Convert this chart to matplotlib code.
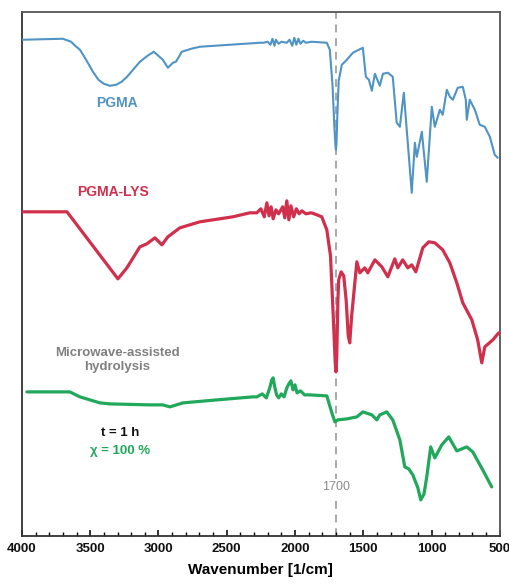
import matplotlib
matplotlib.use("Agg")
from matplotlib import pyplot as plt
from matplotlib.ticker import MultipleLocator

plt.rcParams['font.family'] = ['Liberation Sans', 'DejaVu Sans']

# FTIR spectra, stacked (offset transmittance, a.u.)
pgma_wn = [4000, 3700, 3640, 3610, 3575, 3530, 3480, 3440, 3400, 3356, 3310, 3270, 3230, 3180, 3136, 3080, 3034,
           2968, 2931, 2894, 2872, 2829, 2760, 2697, 2257,
           2230, 2200, 2180, 2165, 2150, 2140, 2120, 2100, 2060, 2040, 2020, 2005, 1990, 1975, 1960, 1940, 1920, 1880,
           1767, 1745, 1725, 1712, 1704, 1700, 1696, 1690, 1680, 1657, 1620, 1576, 1503, 1481, 1459, 1437, 1415,
           1379, 1356, 1320, 1284,
           1255, 1232, 1203, 1145, 1122, 1108, 1071, 1035, 998, 976, 939, 918, 888, 866, 844, 808, 771, 749, 742,
           720, 683, 647, 610, 573, 537, 515]
pgma_t = [496, 497, 494, 490, 486, 476, 464, 456, 452, 450, 451, 454, 459, 467, 474, 480, 484,
          476, 468, 473, 474, 484, 487, 489, 493,
          493, 494, 491, 497, 490, 496, 492, 494, 493, 496, 490, 498, 491, 497, 492, 495, 493, 494,
          493, 486, 450, 410, 390, 386, 392, 420, 455, 471, 476, 483, 488, 459, 456, 445, 462,
          450, 462, 463, 459,
          413, 409, 443, 343, 393, 379, 404, 354, 429, 409, 426, 421, 446, 439, 436, 448, 449, 436, 416,
          436, 426, 411, 409, 399, 381, 378]

lys_wn = [4000, 3670, 3297, 3231, 3136, 3085, 3026, 2975, 2931, 2843, 2697, 2455, 2331,
          2280, 2250, 2225, 2206, 2190, 2175, 2160, 2140, 2120, 2090, 2075, 2060, 2045, 2030, 2010, 1990, 1970, 1950, 1920, 1880,
          1840, 1804, 1767, 1740, 1720, 1706, 1700, 1694, 1686, 1680, 1662, 1643, 1625, 1610, 1599, 1585,
          1547, 1525, 1489, 1467, 1415, 1364, 1320, 1269,
          1247, 1211, 1174, 1145, 1115, 1064, 1020, 976, 918, 866, 815, 771, 705, 662, 632, 610, 551, 508]
lys_t = [324, 324, 257, 268, 289, 292, 298, 291, 299, 308, 314, 319, 323,
         323, 327, 319, 333, 320, 329, 317, 326, 322, 329, 318, 335, 316, 330, 319, 327, 322, 325, 322, 323,
         321, 319, 306, 280, 220, 175, 164, 180, 235, 256, 264, 260, 235, 200, 193, 220,
         274, 263, 268, 263, 276, 269, 259, 277,
         268, 276, 268, 271, 264, 288, 294, 293, 286, 273, 253, 233, 216, 196, 173, 189, 196, 203]

mw_wn = [3963, 3649, 3575, 3429, 3356, 3063, 2968, 2916, 2821, 2572, 2310,
         2280, 2240, 2210, 2185, 2170, 2160, 2150, 2135, 2120, 2100, 2080, 2060, 2045, 2030, 2015, 2000, 1985, 1960, 1930, 1891,
         1767, 1730, 1708, 1686, 1620, 1547, 1503, 1437, 1401, 1379, 1328, 1284, 1232, 1196, 1167, 1137,
         1100, 1079, 1055, 1035, 1006, 976, 925, 874, 815, 742, 698, 625, 559]
mw_t = [144, 144, 139, 133, 132, 131, 131, 129, 133, 136, 139,
        139, 142, 138, 148, 156, 158, 150, 141, 138, 142, 139, 148, 152, 155, 146, 151, 143, 145, 141, 141,
        140, 123, 114, 116, 117, 119, 124, 121, 116, 121, 124, 116, 96, 69, 67, 61,
        48, 36, 42, 59, 89, 78, 91, 99, 85, 89, 84, 66, 49]

blue = '#4f94c4'
red = '#d1304c'
green = '#21a85b'

fig = plt.figure(figsize=(5.10, 5.87), dpi=100)
ax = fig.add_axes([0.043, 0.087, 0.937, 0.893])

ax.axvline(1700, color='#a8a8a8', lw=1.4, ls=(0, (4, 3)), zorder=1)
line_kw = dict(solid_joinstyle='round', solid_capstyle='round', zorder=3)
ax.plot(pgma_wn, pgma_t, color=blue, lw=1.5, **line_kw)
ax.plot(lys_wn, lys_t, color=red, lw=2.3, **line_kw)
ax.plot(mw_wn, mw_t, color=green, lw=2.3, **line_kw)

ax.text(3304, 433, 'PGMA', color=blue, fontsize=10, fontweight='bold', ha='center', va='center')
ax.text(3334, 344, 'PGMA-LYS', color=red, fontsize=10, fontweight='bold', ha='center', va='center')
ax.text(3304, 176, 'Microwave-assisted\nhydrolysis', color='#808080', fontsize=9.5,
        fontweight='bold', ha='center', va='center', linespacing=1.25)
ax.text(3282, 103, 't = 1 h', color='#111111', fontsize=9.5, fontweight='bold', ha='center', va='center')
ax.text(3282, 85, 'χ = 100 %', color=green, fontsize=9.5, fontweight='bold', ha='center', va='center')
ax.text(1700, 49, '1700', color='#8a8a8a', fontsize=9, ha='center', va='center',
        bbox=dict(facecolor='white', edgecolor='none', pad=1.5), zorder=2)

ax.set_xlim(4000, 500)
ax.set_ylim(0, 524)
ax.set_yticks([])
ax.xaxis.set_major_locator(MultipleLocator(500))
ax.xaxis.set_minor_locator(MultipleLocator(100))
ax.tick_params(axis='x', which='major', direction='in', length=4, width=1.2, pad=5,
               labelsize=9.5, colors='#111111')
ax.tick_params(axis='x', which='minor', direction='in', length=3, width=1.0)
for lab in ax.get_xticklabels():
    lab.set_fontweight('bold')
for s in ax.spines.values():
    s.set_linewidth(1.3)
    s.set_color('#333333')
ax.spines['top'].set_color('#555555')
ax.spines['right'].set_color('#555555')

ax.set_xlabel('Wavenumber [1/cm]', fontsize=11, fontweight='bold', labelpad=6)

fig.savefig('out.png', dpi=100)
